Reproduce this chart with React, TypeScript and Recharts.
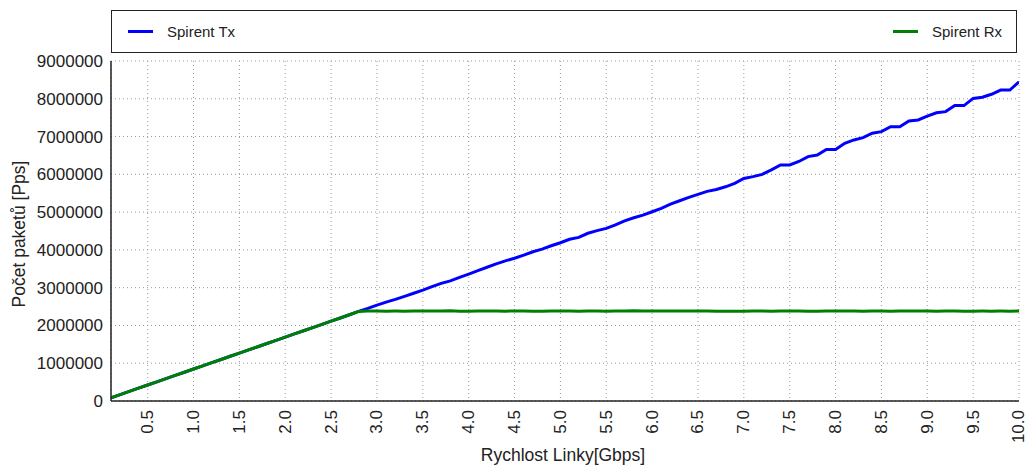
import React from "react";
import {
  LineChart,
  Line,
  XAxis,
  YAxis,
  CartesianGrid,
  Legend,
  Label,
} from "recharts";

const FONT = '"Liberation Sans", Arial, sans-serif';
const INK = "#222";

// link rate in Gbps
const rates = [
  0.1, 0.2, 0.3, 0.4, 0.5, 0.6, 0.7, 0.8, 0.9, 1.0,
  1.1, 1.2, 1.3, 1.4, 1.5, 1.6, 1.7, 1.8, 1.9, 2.0,
  2.1, 2.2, 2.3, 2.4, 2.5, 2.6, 2.7, 2.8, 2.9, 3.0,
  3.1, 3.2, 3.3, 3.4, 3.5, 3.6, 3.7, 3.8, 3.9, 4.0,
  4.1, 4.2, 4.3, 4.4, 4.5, 4.6, 4.7, 4.8, 4.9, 5.0,
  5.1, 5.2, 5.3, 5.4, 5.5, 5.6, 5.7, 5.8, 5.9, 6.0,
  6.1, 6.2, 6.3, 6.4, 6.5, 6.6, 6.7, 6.8, 6.9, 7.0,
  7.1, 7.2, 7.3, 7.4, 7.5, 7.6, 7.7, 7.8, 7.9, 8.0,
  8.1, 8.2, 8.3, 8.4, 8.5, 8.6, 8.7, 8.8, 8.9, 9.0,
  9.1, 9.2, 9.3, 9.4, 9.5, 9.6, 9.7, 9.8, 9.9, 10.0,
];

const spirentTx = [
  85000, 170000, 254000, 339000, 423000, 508000, 592000, 677000, 761000, 846000,
  930000, 1015000, 1099000, 1184000, 1268000, 1353000, 1437000, 1522000, 1606000, 1691000,
  1775000, 1860000, 1944000, 2029000, 2113000, 2198000, 2282000, 2372000, 2451000, 2536000,
  2617000, 2690000, 2770000, 2852000, 2935000, 3030000, 3115000, 3180000, 3270000, 3360000,
  3450000, 3540000, 3630000, 3710000, 3780000, 3860000, 3950000, 4020000, 4110000, 4190000,
  4280000, 4330000, 4440000, 4510000, 4570000, 4660000, 4770000, 4850000, 4920000, 5010000,
  5100000, 5210000, 5300000, 5390000, 5470000, 5550000, 5600000, 5670000, 5760000, 5890000,
  5940000, 6000000, 6120000, 6250000, 6250000, 6340000, 6470000, 6510000, 6660000, 6660000,
  6820000, 6910000, 6970000, 7090000, 7130000, 7260000, 7260000, 7410000, 7440000, 7540000,
  7630000, 7660000, 7820000, 7820000, 8010000, 8040000, 8120000, 8230000, 8230000, 8450000,
];

const spirentRx = [
  85000, 170000, 254000, 339000, 423000, 508000, 592000, 677000, 761000, 846000,
  930000, 1015000, 1099000, 1184000, 1268000, 1353000, 1437000, 1522000, 1606000, 1691000,
  1775000, 1860000, 1944000, 2029000, 2113000, 2198000, 2282000, 2372000, 2384000, 2381000,
  2379000, 2380000, 2378000, 2381000, 2383000, 2380000, 2384000, 2386000, 2379000, 2377000,
  2382000, 2385000, 2381000, 2378000, 2383000, 2380000, 2379000, 2376000, 2381000, 2384000,
  2380000, 2378000, 2382000, 2380000, 2379000, 2383000, 2381000, 2387000, 2383000, 2380000,
  2382000, 2384000, 2381000, 2383000, 2385000, 2380000, 2378000, 2376000, 2379000, 2377000,
  2380000, 2382000, 2379000, 2381000, 2383000, 2380000, 2378000, 2379000, 2381000, 2380000,
  2384000, 2381000, 2379000, 2382000, 2380000, 2378000, 2381000, 2383000, 2380000, 2382000,
  2379000, 2381000, 2380000, 2378000, 2377000, 2380000, 2379000, 2381000, 2378000, 2382000,
];

const seriesNames = ["Spirent Tx", "Spirent Rx"];

const xTicks = [
  0.5, 1.0, 1.5, 2.0, 2.5, 3.0, 3.5, 4.0, 4.5, 5.0,
  5.5, 6.0, 6.5, 7.0, 7.5, 8.0, 8.5, 9.0, 9.5, 10.0,
];
const yTicks = [
  0, 1000000, 2000000, 3000000, 4000000, 5000000, 6000000, 7000000, 8000000, 9000000,
];

const data = rates.map((r, i) => ({ rate: r, tx: spirentTx[i], rx: spirentRx[i] }));

function RotatedTick(props: any) {
  const { x, y, payload } = props;
  return (
    <text
      x={x}
      y={y}
      transform={`rotate(-90, ${x}, ${y})`}
      textAnchor="end"
      dominantBaseline="central"
      fontSize={17}
      fontFamily={FONT}
      fill={INK}
    >
      {Number(payload.value).toFixed(1)}
    </text>
  );
}

function LegendBox(props: any) {
  const items = [...(props.payload || [])].sort(
    (a: any, b: any) => seriesNames.indexOf(a.value) - seriesNames.indexOf(b.value)
  );
  return (
    <div
      style={{
        boxSizing: "border-box",
        width: 906,
        height: 43,
        border: `1.5px solid ${INK}`,
        background: "#fff",
        display: "flex",
        alignItems: "center",
        justifyContent: "space-between",
        padding: "0 14px 0 16px",
        fontFamily: FONT,
        fontSize: 15,
        color: INK,
      }}
    >
      {items.map((it: any) => (
        <div key={it.value} style={{ display: "flex", alignItems: "center" }}>
          <span
            style={{
              display: "inline-block",
              width: 25,
              height: 3,
              background: it.color,
              marginRight: 14,
            }}
          />
          <span>{it.value}</span>
        </div>
      ))}
    </div>
  );
}

export default function App() {
  return (
    <div style={{ position: "absolute", left: 0, top: 0, background: "#fff" }}>
      <LineChart
        width={1026}
        height={465}
        data={data}
        margin={{ top: 61, right: 7, bottom: 0, left: 0 }}
      >
        <CartesianGrid stroke="#9a9a9a" strokeDasharray="1 3" />
        <XAxis
          dataKey="rate"
          type="number"
          domain={[0.1, 10]}
          ticks={xTicks}
          allowDataOverflow
          height={64}
          stroke={INK}
          strokeWidth={1.5}
          tickLine={false}
          tickSize={0}
          tickMargin={9}
          tick={<RotatedTick />}
        >
          <Label
            content={(p: any) => {
              const vb = p.viewBox || { x: 111, y: 401, width: 908 };
              return (
                <text
                  x={vb.x + vb.width / 2 - 2}
                  y={vb.y + 60}
                  textAnchor="middle"
                  fontSize={17.5}
                  fontFamily={FONT}
                  fill={INK}
                >
                  Rychlost Linky[Gbps]
                </text>
              );
            }}
          />
        </XAxis>
        <XAxis
          xAxisId="bottomTicks"
          dataKey="rate"
          type="number"
          domain={[0.1, 10]}
          ticks={xTicks}
          allowDataOverflow
          orientation="bottom"
          mirror
          height={0}
          axisLine={false}
          tick={false}
          tickSize={6}
          stroke={INK}
        />
        <XAxis
          xAxisId="topTicks"
          dataKey="rate"
          type="number"
          domain={[0.1, 10]}
          ticks={xTicks}
          allowDataOverflow
          orientation="top"
          mirror
          height={0}
          tick={false}
          tickSize={6}
          stroke={INK}
          strokeWidth={1.5}
        />
        <YAxis
          type="number"
          domain={[0, 9000000]}
          ticks={yTicks}
          width={111}
          stroke={INK}
          strokeWidth={1.5}
          tickLine={false}
          tickSize={6}
          tickMargin={2}
          tick={{ fontSize: 17, fontFamily: FONT, fill: INK }}
        >
          <Label
            content={(p: any) => {
              const vb = p.viewBox || { x: 0, y: 61, height: 340 };
              const cx = vb.x + 19;
              const cy = vb.y + vb.height / 2 + 3;
              return (
                <text
                  x={cx}
                  y={cy}
                  transform={`rotate(-90, ${cx}, ${cy})`}
                  textAnchor="middle"
                  dominantBaseline="central"
                  fontSize={17.5}
                  fontFamily={FONT}
                  fill={INK}
                >
                  Počet paketů [Pps]
                </text>
              );
            }}
          />
        </YAxis>
        <YAxis
          yAxisId="leftTicks"
          type="number"
          domain={[0, 9000000]}
          ticks={yTicks}
          orientation="left"
          mirror
          width={0}
          axisLine={false}
          tick={false}
          tickSize={6}
          stroke={INK}
        />
        <YAxis
          yAxisId="rightTicks"
          type="number"
          domain={[0, 9000000]}
          ticks={yTicks}
          orientation="right"
          mirror
          width={0}
          tick={false}
          tickSize={6}
          stroke={INK}
          strokeWidth={1.5}
        />
        <Legend
          layout="horizontal"
          verticalAlign="middle"
          align="center"
          wrapperStyle={{ left: 111, top: 10, width: 906, height: 43 }}
          content={<LegendBox />}
        />
        <Line
          type="linear"
          dataKey="tx"
          name="Spirent Tx"
          stroke="#0000ff"
          strokeWidth={3}
          dot={false}
          isAnimationActive={false}
        />
        <Line
          type="linear"
          dataKey="rx"
          name="Spirent Rx"
          stroke="#008000"
          strokeWidth={3}
          dot={false}
          isAnimationActive={false}
        />
      </LineChart>
    </div>
  );
}
